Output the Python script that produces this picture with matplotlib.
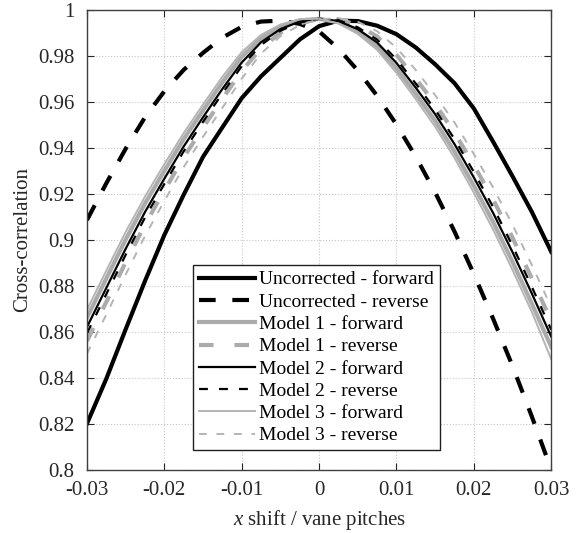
import matplotlib
matplotlib.use("Agg")
import matplotlib.pyplot as plt

plt.rcParams["font.family"] = ["Liberation Serif", "DejaVu Serif"]
plt.rcParams["mathtext.fontset"] = "custom"
plt.rcParams["mathtext.rm"] = "Liberation Serif"
plt.rcParams["mathtext.it"] = "Liberation Serif:italic"

# x shift (vane pitches), sampled every 0.0025
x_shift = [-0.03, -0.0275, -0.025, -0.0225, -0.02, -0.0175, -0.015, -0.0125,
           -0.01, -0.0075, -0.005, -0.0025, 0.0, 0.0025, 0.005, 0.0075, 0.01,
           0.0125, 0.015, 0.0175, 0.02, 0.0225, 0.025, 0.0275, 0.03]

uncorr_fwd = [0.820, 0.8395, 0.861, 0.882, 0.902, 0.9195, 0.936, 0.9488,
              0.9615, 0.971, 0.979, 0.987, 0.9928, 0.9952, 0.9950, 0.9930,
              0.9893, 0.9835, 0.9762, 0.968, 0.957, 0.9425, 0.9275, 0.912,
              0.8947]
uncorr_rev = [0.9085, 0.9245, 0.9395, 0.9532, 0.9645, 0.9738, 0.9812,
              0.9878, 0.9925, 0.9948, 0.9952, 0.9938, 0.9905, 0.983, 0.9735,
              0.9625, 0.950, 0.936, 0.9205, 0.9035, 0.885, 0.8655, 0.845,
              0.823, 0.800]
model1_fwd = [0.8661, 0.8831, 0.9000, 0.9157, 0.9299, 0.9437, 0.9562, 0.9684,
              0.9795, 0.9875, 0.9926, 0.9953, 0.9960, 0.9945, 0.9904, 0.9840,
              0.9745, 0.9633, 0.9516, 0.9382, 0.9234, 0.9076, 0.8903, 0.8721,
              0.8533]
model1_rev = [0.8559, 0.8729, 0.8901, 0.9065, 0.9214, 0.9357, 0.9487, 0.9612,
              0.9733, 0.9832, 0.9899, 0.9940, 0.9960, 0.9958, 0.9932, 0.9883,
              0.9803, 0.9700, 0.9589, 0.9465, 0.9324, 0.9174, 0.9008, 0.8831,
              0.8646]
model2_fwd = [0.862, 0.879, 0.896, 0.912, 0.9265, 0.9405, 0.9532, 0.9655,
              0.9770, 0.9858, 0.9915, 0.9948, 0.9960, 0.9950, 0.9915, 0.9857,
              0.9768, 0.9660, 0.9545, 0.9415, 0.9270, 0.9115, 0.8945, 0.8765,
              0.8578]
model2_rev = [0.8593, 0.8763, 0.8934, 0.9096, 0.9242, 0.9384, 0.9512, 0.9636,
              0.9754, 0.9846, 0.9908, 0.9944, 0.9960, 0.9954, 0.9923, 0.9869,
              0.9784, 0.9678, 0.9565, 0.9437, 0.9294, 0.9141, 0.8973, 0.8794,
              0.8608]
model3_fwd = [0.8695, 0.8865, 0.9033, 0.9187, 0.9328, 0.9463, 0.9587, 0.9708,
              0.9815, 0.9890, 0.9935, 0.9958, 0.9960, 0.9940, 0.9894, 0.9825,
              0.9725, 0.9610, 0.9491, 0.9355, 0.9204, 0.9043, 0.8868, 0.8685,
              0.8480]
model3_rev = [0.8504, 0.8674, 0.8848, 0.9016, 0.9168, 0.9315, 0.9447, 0.9573,
              0.9700, 0.9809, 0.9884, 0.9933, 0.9958, 0.9962, 0.9947, 0.9906,
              0.9834, 0.9737, 0.9628, 0.9509, 0.9372, 0.9226, 0.9064, 0.8889,
              0.8706]

series = [
    ("Uncorrected - forward", uncorr_fwd),
    ("Uncorrected - reverse", uncorr_rev),
    ("Model 1 - forward", model1_fwd),
    ("Model 1 - reverse", model1_rev),
    ("Model 2 - forward", model2_fwd),
    ("Model 2 - reverse", model2_rev),
    ("Model 3 - forward", model3_fwd),
    ("Model 3 - reverse", model3_rev),
]

x_ticks = [-0.03, -0.02, -0.01, 0.0, 0.01, 0.02, 0.03]
x_tick_labels = ["-0.03", "-0.02", "-0.01", "0", "0.01", "0.02", "0.03"]
y_ticks = [0.8, 0.82, 0.84, 0.86, 0.88, 0.9, 0.92, 0.94, 0.96, 0.98, 1.0]
y_tick_labels = ["0.8", "0.82", "0.84", "0.86", "0.88", "0.9", "0.92",
                 "0.94", "0.96", "0.98", "1"]

# (color, linewidth, dashes or None)
styles = [
    ("black", 3.0, None),
    ("black", 3.0, (4, 4)),
    ("#ababab", 3.0, None),
    ("#ababab", 3.0, (3.5, 5)),
    ("black", 1.6, None),
    ("black", 1.6, (4, 5)),
    ("#b4b4b4", 1.4, None),
    ("#b4b4b4", 1.4, (4, 5)),
]

fig = plt.figure(figsize=(5.76, 5.33), dpi=100)
ax = fig.add_axes([0.151, 0.119, 0.806, 0.863])

for (label, vals), (color, lw, dashes) in zip(series, styles):
    line, = ax.plot(x_shift, vals, color=color, lw=lw, label=label)
    if dashes is not None:
        line.set_dashes(dashes)

ax.set_xlim(-0.03, 0.03)
ax.set_ylim(0.8, 1.0)
ax.set_xticks(x_ticks)
ax.set_xticklabels(x_tick_labels)
ax.set_yticks(y_ticks)
ax.set_yticklabels(y_tick_labels)
ax.tick_params(direction="in", length=5, width=0.8, top=True, right=True,
               labelsize=15, colors="#262626")
ax.tick_params(axis="y", pad=9)
ax.tick_params(axis="x", pad=8)
for s in ax.spines.values():
    s.set_color("#404040")
    s.set_linewidth(1.0)
ax.grid(True, linestyle=":", color="#c8c8c8", linewidth=0.8)

ax.set_xlabel(r"$x$ shift / vane pitches", fontsize=15, color="#262626",
              labelpad=6)
ax.set_ylabel("Cross-correlation", fontsize=15, color="#262626", labelpad=4)

leg = ax.legend(loc="lower left", bbox_to_anchor=(0.228, 0.042), fontsize=14,
                handlelength=2.9, handletextpad=0.2, labelspacing=0.24,
                borderpad=0.3, borderaxespad=0.0, fancybox=False,
                framealpha=1)
leg.get_frame().set_edgecolor("#202020")
leg.get_frame().set_linewidth(1.0)

fig.savefig("out.png", dpi=100)
